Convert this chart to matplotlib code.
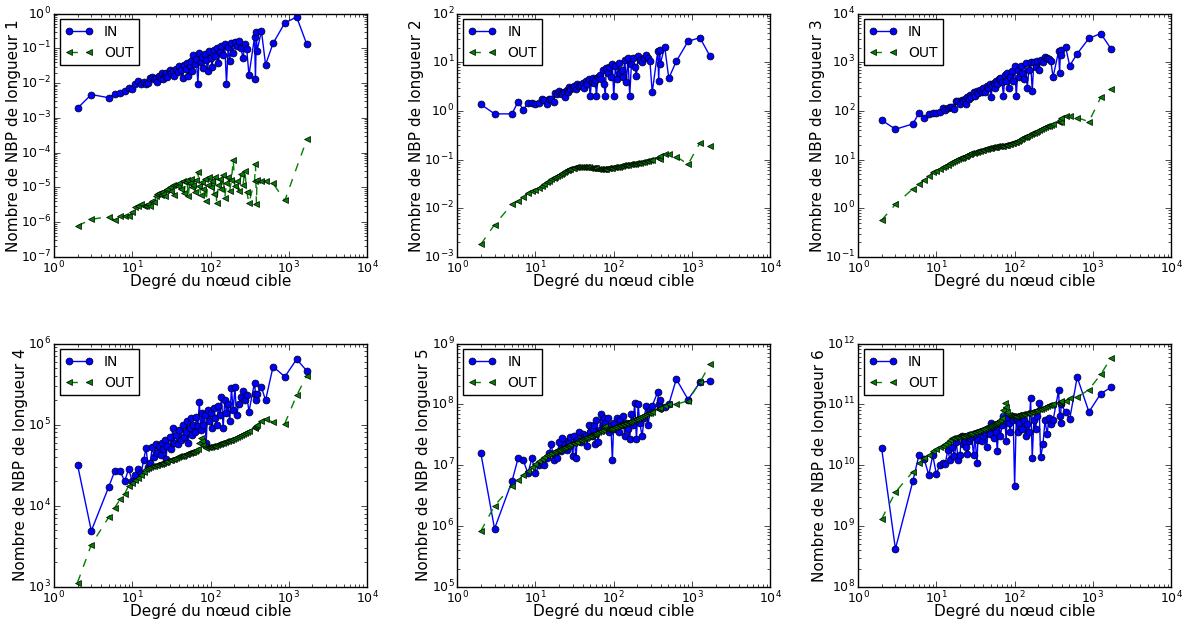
import numpy as np
import matplotlib
matplotlib.use('Agg')
from matplotlib import pyplot as plt

plt.style.use('classic')
plt.rcParams['figure.facecolor'] = 'white'
plt.rcParams['savefig.facecolor'] = 'white'
plt.rcParams['font.family'] = ['DejaVu Sans']

# degre du noeud cible (commun a toutes les courbes)
deg = [2, 3, 5, 6, 7, 8, 9, 10, 11, 12,
       13, 14, 15, 16, 17, 18, 19, 20, 21, 22,
       23, 24, 25, 26, 27, 28, 30, 31, 33, 34,
       36, 38, 40, 42, 44, 46, 48, 50, 52, 54,
       56, 58, 60, 63, 66, 69, 72, 75, 78, 80,
       84, 88, 92, 96, 100, 105, 110, 115, 120, 126,
       132, 138, 145, 152, 160, 168, 176, 185, 195, 205,
       215, 230, 245, 260, 275, 290, 310, 365, 375, 386,
       392, 447, 505, 630, 890, 1260, 1700]

in_1 = [1.9e-3, 4.7e-3, 3.8e-3, 4.8e-3, 5.3e-3, 5.8e-3, 7.3e-3, 6.8e-3, 9.6e-3, 1.15e-2,
        9.3e-3, 1.05e-2, 9.2e-3, 1.0e-2, 1.45e-2, 1.5e-2, 1.3e-2, 1.45e-2, 1.1e-2, 1.6e-2,
        1.45e-2, 1.9e-2, 1.3e-2, 1.7e-2, 2.0e-2, 1.5e-2, 2.4e-2, 1.9e-2, 2.2e-2, 1.6e-2,
        2.6e-2, 2.1e-2, 3.1e-2, 2.4e-2, 1.4e-2, 3.3e-2, 2.5e-2, 3.8e-2, 1.6e-2, 3.2e-2,
        4.4e-2, 2.2e-2, 6.3e-2, 3.6e-2, 4.8e-2, 9.5e-3, 7.2e-2, 4.1e-2, 5.5e-2, 2.8e-2,
        7.0e-2, 4.5e-2, 2.2e-2, 8.3e-2, 5.4e-2, 3.0e-2, 9.0e-2, 6.2e-2, 1.0e-1, 3.8e-2,
        8.0e-2, 1.2e-1, 6.5e-2, 1.3e-1, 9.5e-3, 1.1e-1, 4.3e-2, 1.4e-1, 7.5e-2, 1.55e-1,
        1.2e-1, 1.6e-1, 1.0e-1, 5.3e-2, 1.3e-1, 9.6e-2, 1.7e-2, 2.1e-1, 1.3e-2, 3.0e-1,
        8.2e-2, 3.2e-1, 3.4e-2, 1.4e-1, 5.4e-1, 8.0e-1, 1.3e-1]
out_1 = [7.8e-7, 1.2e-6, 1.45e-6, 1.15e-6, 1.5e-6, 1.5e-6, 1.55e-6, 1.9e-6, 2.8e-6, 2.9e-6,
         3.4e-6, 3.0e-6, 2.9e-6, 3.3e-6, 3.0e-6, 4.0e-6, 3.8e-6, 5.5e-6, 6.5e-6, 7.0e-6,
         6.0e-6, 7.5e-6, 6.5e-6, 5.8e-6, 8.5e-6, 9.0e-6, 1.05e-5, 8.0e-6, 1.15e-5, 6.0e-6,
         1.2e-5, 1.1e-5, 1.3e-5, 9.0e-6, 1.5e-5, 7.0e-6, 1.4e-5, 1.6e-5, 5.5e-6, 1.3e-5,
         1.7e-5, 1.0e-5, 1.2e-5, 7.5e-6, 1.6e-5, 2.8e-5, 1.1e-5, 6.0e-6, 1.4e-5, 9.0e-6,
         1.8e-5, 4.0e-6, 1.2e-5, 2.0e-5, 1.0e-5, 1.5e-5, 6.5e-6, 2.0e-5, 3.5e-6, 1.2e-5,
         1.8e-5, 9.0e-6, 2.2e-5, 5.0e-6, 1.3e-5, 2.0e-5, 8.0e-6, 1.6e-5, 6.1e-5, 1.1e-5,
         1.5e-5, 8.0e-6, 2.4e-5, 1.2e-5, 3.0e-5, 7.5e-6, 3.6e-6, 1.5e-5, 4.6e-5, 3.3e-6,
         1.6e-5, 1.5e-5, 1.5e-5, 1.3e-5, 4.2e-6, np.nan, 2.4e-4]

in_2 = [1.37, 0.87, 0.87, 1.55, 1.05, 1.48, 1.48, 1.37, 1.45, 1.74,
        1.7, 1.37, 1.77, 1.8, 1.55, 2.3, 2.2, 2.6, 2.3, 2.2,
        2.4, 1.9, 2.7, 2.5, 3.1, 2.8, 3.0, 3.3, 2.8, 3.5,
        3.2, 3.4, 3.8, 3.0, 4.2, 3.6, 4.5, 2.0, 4.0, 4.8,
        3.8, 4.3, 2.0, 5.0, 5.5, 4.5, 6.8, 3.6, 2.0, 7.5,
        6.0, 8.0, 5.0, 9.0, 2.0, 8.5, 4.5, 9.5, 6.0, 7.0,
        5.0, 11.0, 4.0, 12.0, 2.0, 9.0, 12.0, 8.0, 5.2, 13.5,
        11.0, 10.0, 12.0, 14.0, 12.5, 10.5, 2.4, 17.0, 4.2, 18.0,
        9.0, 21.0, 4.7, 10.5, 27.0, 32.0, 13.3]
out_2 = [1.8e-3, 4.6e-3, 1.2e-2, 1.4e-2, 1.7e-2, 2.1e-2, 2.3e-2, 2.4e-2, 2.6e-2, 2.9e-2,
         3.1e-2, 3.4e-2, 3.7e-2, 3.9e-2, 4.1e-2, 4.3e-2, 4.6e-2, 4.9e-2, 5.1e-2, 5.4e-2,
         5.6e-2, 5.8e-2, 6.0e-2, 6.2e-2, 6.4e-2, 6.5e-2, 6.7e-2, 6.8e-2, 6.9e-2, 7.0e-2,
         7.0e-2, 7.1e-2, 7.0e-2, 7.0e-2, 6.9e-2, 7.0e-2, 6.9e-2, 6.8e-2, 6.8e-2, 6.7e-2,
         6.7e-2, 6.6e-2, 6.6e-2, 6.5e-2, 6.5e-2, 6.4e-2, 6.4e-2, 6.5e-2, 6.4e-2, 6.5e-2,
         6.6e-2, 6.6e-2, 6.7e-2, 6.8e-2, 6.9e-2, 7.0e-2, 7.1e-2, 7.2e-2, 7.3e-2, 7.5e-2,
         7.6e-2, 7.7e-2, 7.8e-2, 7.9e-2, 8.0e-2, 8.1e-2, 8.2e-2, 8.3e-2, 8.5e-2, 8.6e-2,
         8.7e-2, 8.9e-2, 9.1e-2, 9.3e-2, 9.5e-2, 9.8e-2, 1.0e-1, 1.1e-1, 1.15e-1, 1.05e-1,
         1.2e-1, 1.3e-1, 1.3e-1, 1.15e-1, 8.0e-2, 2.2e-1, 1.9e-1]

in_3 = [65, 42, 54, 90, 70, 88, 90, 92, 93, 113,
        105, 115, 120, 120, 112, 163, 160, 140, 170, 160,
        175, 140, 190, 175, 210, 190, 240, 200, 260, 230,
        270, 240, 300, 250, 330, 290, 350, 190, 320, 380,
        300, 420, 350, 450, 480, 400, 200, 550, 420, 600,
        300, 500, 650, 420, 850, 200, 700, 500, 850, 600,
        450, 950, 300, 700, 1000, 260, 1000, 800, 1050, 700,
        1100, 1000, 1300, 1200, 1150, 1050, 500, 1700, 600, 1800,
        1400, 2100, 850, 1500, 3100, 3900, 1900]
out_3 = [0.57, 1.2, 2.5, 3.1, 3.8, 4.5, 5.5, 5.8, 6.3, 6.9,
         7.4, 7.9, 8.4, 8.9, 9.3, 9.7, 10.2, 10.6, 11.0, 11.4,
         11.8, 12.1, 12.5, 12.8, 13.1, 13.4, 13.9, 14.2, 14.6, 14.9,
         15.3, 15.7, 16.0, 16.4, 16.7, 17.0, 17.3, 17.6, 17.8, 18.0,
         18.2, 18.4, 18.6, 18.8, 19.0, 19.2, 19.4, 19.6, 19.8, 20.0,
         20.5, 21.0, 21.5, 22.0, 22.5, 23.5, 24.5, 25.5, 26.5, 27.5,
         28.5, 29.5, 31, 32, 33, 34.5, 36, 37.5, 39, 40.5,
         42, 44, 46, 48, 50, 52, 55, 60, 65, 58,
         70, 80, 80, 73, 60, 190, 285]

in_4 = [32000, 4900, 17000, 27000, 27000, 20000, 28500, 20000, 24000, 28000,
        25000, 37000, 51000, 30000, 34000, 53000, 40000, 58000, 45000, 55000,
        42000, 60000, 50000, 65000, 38000, 55000, 70000, 50000, 90000, 60000,
        75000, 58000, 85000, 65000, 100000, 70000, 80000, 110000, 60000, 90000,
        120000, 75000, 100000, 80000, 125000, 95000, 190000, 85000, 140000, 100000,
        130000, 60000, 150000, 110000, 140000, 90000, 160000, 120000, 100000, 170000,
        130000, 220000, 90000, 200000, 140000, 180000, 110000, 280000, 150000, 290000,
        130000, 180000, 220000, 260000, 200000, 230000, 145000, 330000, 240000, 200000,
        240000, 290000, 200000, 520000, 390000, 640000, 460000]
out_4 = [1130, 3300, 7200, 9500, 12000, 14000, 17700, 19000, 20500, 22000,
         24000, 26000, 28000, 29000, 30000, 30500, 31000, 31500, 32000, 32500,
         33000, 33500, 34000, 34500, 35000, 35500, 36500, 37000, 37500, 38000,
         39000, 40000, 40500, 41000, 41500, 42000, 43000, 44000, 44500, 45000,
         45500, 46000, 46500, 47000, 48000, 50000, 60000, 68000, 62000, 56000,
         53000, 52000, 52500, 53000, 53500, 54000, 54500, 55000, 56000, 57000,
         58000, 59000, 60000, 61000, 62000, 63000, 64000, 65500, 67000, 68500,
         70000, 72000, 74000, 76000, 78000, 80000, 83000, 90000, 94000, 97000,
         100000, 110000, 118000, 107000, 103000, 230000, 400000]

in_5 = [1.6e7, 9.0e5, 5.4e6, 1.3e7, 1.2e7, 7.3e6, 1.3e7, 7.3e6, 1.0e7, 1.1e7,
        1.0e7, 1.3e7, 1.6e7, 2.2e7, 1.2e7, 1.5e7, 1.3e7, 2.4e7, 1.7e7, 2.8e7,
        2.0e7, 2.2e7, 1.8e7, 2.5e7, 2.3e7, 2.9e7, 1.4e7, 3.0e7, 1.3e7, 2.6e7,
        3.5e7, 2.4e7, 3.2e7, 2.9e7, 3.0e7, 2.1e7, 4.5e7, 3.5e7, 3.0e7, 4.0e7,
        4.5e7, 2.2e7, 5.5e7, 2.4e7, 3.8e7, 7.0e7, 4.5e7, 6.0e7, 5.0e7, 4.0e7,
        6.0e7, 3.5e7, 4.5e7, 1.2e7, 5.0e7, 4.0e7, 6.0e7, 3.5e7, 5.5e7, 4.5e7,
        6.5e7, 3.0e7, 5.0e7, 4.0e7, 2.7e7, 7.0e7, 4.5e7, 1.05e8, 2.7e7, 1.0e8,
        5.0e7, 3.0e7, 6.0e7, 9.5e7, 4.5e7, 8.0e7, 9.5e7, 1.6e8, 1.0e8, 1.2e8,
        9.0e7, 9.0e7, 1.0e8, 2.6e8, 1.2e8, 2.3e8, 2.4e8]
out_5 = [8.2e5, 2.15e6, 4.6e6, 5.7e6, 6.9e6, 7.9e6, 9.4e6, 1.05e7, 1.15e7, 1.25e7,
         1.35e7, 1.45e7, 1.55e7, 1.6e7, 1.65e7, 1.7e7, 1.75e7, 1.8e7, 1.85e7, 1.9e7,
         1.95e7, 2.0e7, 2.05e7, 2.1e7, 2.15e7, 2.2e7, 2.3e7, 2.35e7, 2.4e7, 2.45e7,
         2.55e7, 2.6e7, 2.7e7, 2.75e7, 2.85e7, 2.9e7, 3.0e7, 3.05e7, 3.1e7, 3.2e7,
         3.25e7, 3.3e7, 3.4e7, 3.5e7, 3.6e7, 3.7e7, 3.8e7, 4.2e7, 4.4e7, 4.0e7,
         3.9e7, 3.95e7, 4.0e7, 4.1e7, 4.2e7, 4.3e7, 4.4e7, 4.5e7, 4.6e7, 4.7e7,
         4.8e7, 4.9e7, 5.0e7, 5.1e7, 5.2e7, 5.4e7, 5.5e7, 5.7e7, 5.8e7, 6.0e7,
         6.2e7, 6.4e7, 6.6e7, 6.9e7, 7.1e7, 7.3e7, 7.6e7, 8.3e7, 8.5e7, 8.7e7,
         8.8e7, 9.5e7, 1.0e8, 1.0e8, 1.15e8, 2.3e8, 4.6e8]

in_6 = [1.9e10, 4.2e8, 5.4e9, 1.47e10, 1.25e10, 6.9e9, 1.45e10, 7.1e9, 1.0e10, 1.1e10,
        1.05e10, 1.8e10, 1.2e10, 2.0e10, 1.4e10, 2.4e10, 1.2e10, 1.45e10, 3.0e10, 2.2e10,
        2.5e10, 2.0e10, 1.5e10, 2.5e10, 2.8e10, 3.0e10, 1.45e10, 3.2e10, 1.1e10, 2.6e10,
        3.3e10, 2.5e10, 3.0e10, 3.5e10, 2.0e10, 3.8e10, 3.2e10, 5.0e10, 4.2e10, 2.8e10,
        4.5e10, 3.5e10, 1.7e10, 5.0e10, 3.0e10, 4.5e10, 6.5e10, 5.5e10, 2.5e10, 6.0e10,
        5.0e10, 3.5e10, 6.5e10, 5.5e10, 4.5e9, 6.0e10, 3.5e10, 5.0e10, 6.5e10, 4.0e10,
        5.5e10, 3.0e10, 4.8e10, 3.5e10, 1.25e11, 1.3e10, 5.5e10, 4.0e10, 6.5e10, 1.05e11,
        1.35e10, 2.2e10, 5.5e10, 3.2e10, 6.0e10, 4.8e10, 5.5e10, 1.7e11, 6.5e10, 5.0e10,
        1.0e11, 7.5e10, 5.7e10, 2.8e11, 7.5e10, 1.5e11, 1.9e11]
out_6 = [1.3e9, 3.6e9, 7.8e9, 1.07e10, 1.3e10, 1.45e10, 1.7e10, 1.85e10, 2.0e10, 2.1e10,
         2.25e10, 2.4e10, 2.6e10, 2.75e10, 2.85e10, 2.9e10, 2.95e10, 3.0e10, 3.0e10, 3.05e10,
         3.1e10, 3.15e10, 3.2e10, 3.25e10, 3.3e10, 3.35e10, 3.45e10, 3.5e10, 3.6e10, 3.7e10,
         3.8e10, 3.9e10, 4.0e10, 4.1e10, 4.2e10, 4.35e10, 4.45e10, 4.6e10, 4.7e10, 4.8e10,
         4.9e10, 5.0e10, 5.2e10, 5.4e10, 5.6e10, 6.0e10, 8.0e10, 1.05e11, 9.0e10, 7.5e10,
         6.8e10, 6.5e10, 6.4e10, 6.4e10, 6.5e10, 6.5e10, 6.6e10, 6.7e10, 6.8e10, 6.9e10,
         7.0e10, 7.1e10, 7.2e10, 7.3e10, 7.4e10, 7.5e10, 7.7e10, 7.9e10, 8.1e10, 8.3e10,
         8.5e10, 8.8e10, 9.0e10, 9.3e10, 9.6e10, 9.8e10, 1.0e11, 1.05e11, 1.1e11, 1.1e11,
         1.12e11, 1.15e11, 1.25e11, 1.3e11, 1.75e11, 3.1e11, 5.8e11]

ins = [in_1, in_2, in_3, in_4, in_5, in_6]
outs = [out_1, out_2, out_3, out_4, out_5, out_6]
ylims = [(1e-7, 1e0), (1e-3, 1e2), (1e-1, 1e4), (1e3, 1e6), (1e5, 1e9), (1e8, 1e12)]

fig = plt.figure(figsize=(11.86, 6.19), dpi=100)
lefts = [0.0455, 0.3855, 0.7235]
bottoms = [0.585, 0.052]
w, h = 0.264, 0.393

x = np.array(deg, dtype=float)
for i in range(6):
    ax = fig.add_axes([lefts[i % 3], bottoms[i // 3], w, h])
    y_in = np.array(ins[i], dtype=float)
    y_out = np.array(outs[i], dtype=float)
    ok = ~np.isnan(y_out)
    ax.plot(x, y_in, 'b-o', ms=5, mec='k', mew=0.5, lw=1, label='IN')
    ax.plot(x[ok], y_out[ok], 'g--<', ms=5, mec='k', mew=0.5, lw=1, label='OUT')
    ax.set_xscale('log')
    ax.set_yscale('log')
    ax.set_xlim(1, 1e4)
    ax.set_ylim(*ylims[i])
    ax.tick_params(labelsize=9, pad=2)
    ax.set_xlabel('Degré du nœud cible', fontsize=11, labelpad=-2)
    ax.set_ylabel('Nombre de NBP de longueur %d' % (i + 1), fontsize=11, labelpad=0)
    ax.legend(loc='upper left', numpoints=2, fontsize=10, borderaxespad=0.4)

fig.savefig('out.png', dpi=100)
